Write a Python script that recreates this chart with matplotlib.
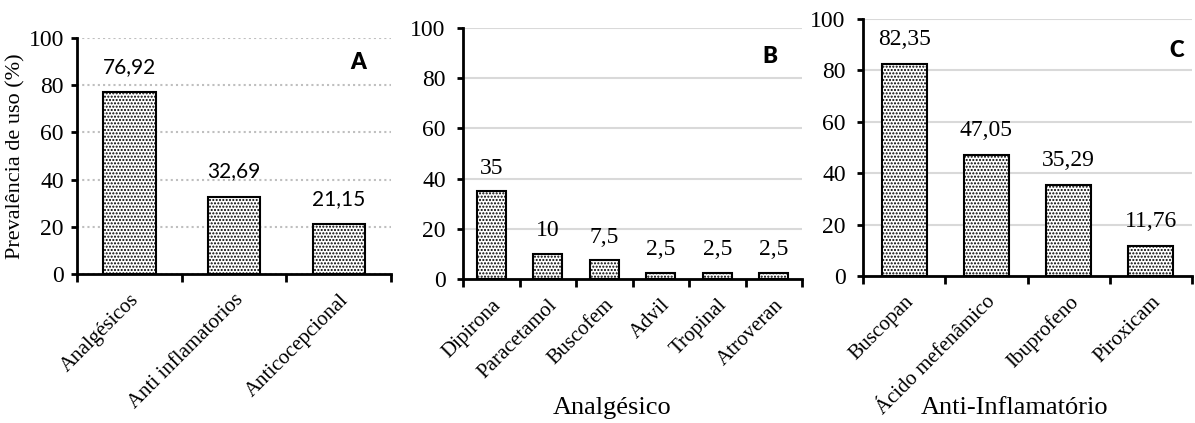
import matplotlib
matplotlib.use('Agg')
import matplotlib.pyplot as plt
import numpy as np

# panel A
cat_a = ['Analgésicos', 'Anti inflamatorios', 'Anticocepcional']
val_a = [76.92, 32.69, 21.15]
lab_a = ['76,92', '32,69', '21,15']

# panel B
cat_b = ['Dipirona', 'Paracetamol', 'Buscofem', 'Advil', 'Tropinal', 'Atroveran']
val_b = [35, 10, 7.5, 2.5, 2.5, 2.5]
lab_b = ['35', '10', '7,5', '2,5', '2,5', '2,5']

# panel C
cat_c = ['Buscopan', 'Ácido mefenâmico', 'Ibuprofeno', 'Piroxicam']
val_c = [82.35, 47.05, 35.29, 11.76]
lab_c = ['82,35', '47,05', '35,29', '11,76']

serif = 'Liberation Serif'
sans = 'Lato'
plt.rcParams['hatch.linewidth'] = 1.0

W, H = 1195, 423
fig = plt.figure(figsize=(W / 100, H / 100), dpi=100)

def px_axes(l, r, t, b):
    return fig.add_axes([l / W, (H - b) / H, (r - l) / W, (b - t) / H])

def panel(ax, cats, vals, labs, letter, letter_xy, width, grid_ls, grid_c,
          lab_font, lab_size, lab_off, ypad):
    x = np.arange(len(cats))
    ax.bar(x, vals, width=width, color='white', edgecolor='black', hatch='.....',
           linewidth=1.5, zorder=3)
    for xi, v, s in zip(x, vals, labs):
        ax.text(xi, v + lab_off, s, ha='center', va='bottom', fontsize=lab_size,
                family=lab_font)
    ax.set_xlim(-0.5, len(cats) - 0.5)
    ax.set_ylim(0, 100)
    ax.set_yticks([0, 20, 40, 60, 80, 100])
    ax.yaxis.grid(True, color=grid_c, linestyle=grid_ls, linewidth=1.5, zorder=0)
    ax.set_axisbelow(True)
    for s in ['top', 'right']:
        ax.spines[s].set_visible(False)
    for s in ['left', 'bottom']:
        ax.spines[s].set_linewidth(2)
    ax.set_xticks(x)
    ax.set_xticklabels(cats, rotation=45, ha='right', rotation_mode='anchor',
                       family=serif, fontsize=15)
    ax.set_xticks(np.arange(len(cats) + 1) - 0.5, minor=True)
    ax.tick_params(axis='x', which='major', length=0, pad=12)
    ax.tick_params(axis='x', which='minor', length=6, width=2, direction='out')
    ax.tick_params(axis='y', length=4.5, width=2, direction='out', pad=ypad)
    for t in ax.get_yticklabels():
        t.set_family(serif)
        t.set_fontsize(17)
    ax.text(letter_xy[0], letter_xy[1], letter, transform=ax.transAxes,
            ha='center', va='center', fontsize=16, fontweight='heavy', family=sans)

ax_a = px_axes(77, 391, 38, 274)
panel(ax_a, cat_a, val_a, lab_a, 'A', (0.895, 0.898), 0.5, (0, (1, 1.5)),
      '#bfbfbf', sans, 15, 6.5, 5)
ax_a.set_ylabel('Prevalência de uso (%)', family=serif, fontsize=16, labelpad=2)

ax_b = px_axes(463, 802, 28, 279)
panel(ax_b, cat_b, val_b, lab_b, 'B', (0.906, 0.888), 0.52, '-', '#d9d9d9',
      serif, 17, 5, 8)

ax_c = px_axes(863, 1192, 19, 276)
panel(ax_c, cat_c, val_c, lab_c, 'C', (0.954, 0.879), 0.55, '-', '#d9d9d9',
      serif, 17, 5.5, 8)

fig.text(612 / W, 1 - 408 / H, 'Analgésico', ha='center', va='center',
         family=serif, fontsize=19)
fig.text(1015 / W, 1 - 408 / H, 'Anti-Inflamatório', ha='center', va='center',
         family=serif, fontsize=19)

fig.savefig('out.png', dpi=100)
